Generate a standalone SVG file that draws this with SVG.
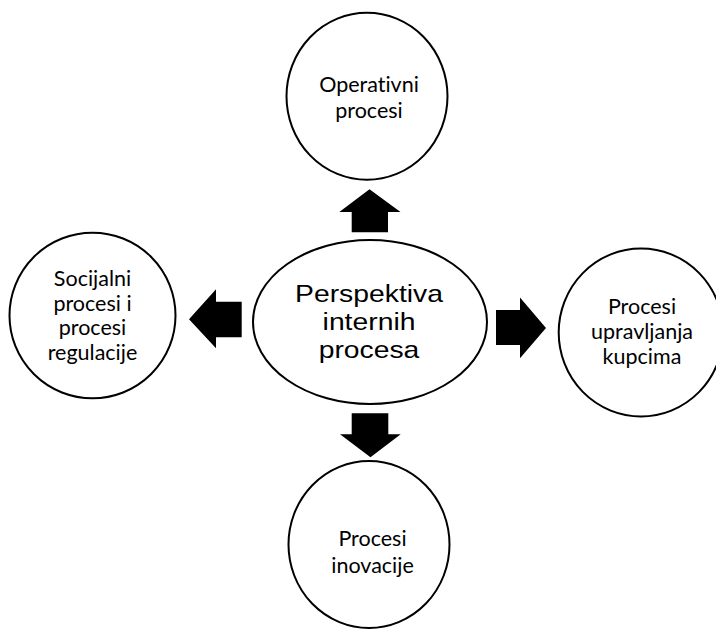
<svg xmlns="http://www.w3.org/2000/svg" width="716" height="631" viewBox="0 0 716 631">
<style>
.node { fill: #ffffff; stroke: #000000; stroke-width: 2; }
.lbl { font-family: Lato, "Open Sans", sans-serif; font-size: 21.5px; fill: #000000; text-anchor: middle; font-variant-ligatures: none; }
.main { font-family: "Liberation Sans", Arial, sans-serif; font-size: 24px; fill: #000000; text-anchor: middle; }
.arrow { fill: #000000; stroke: none; }
</style>
<rect x="0" y="0" width="716" height="631" fill="#ffffff"/>
<g id="connectors">
<polygon class="arrow" points="369.5,189.3 400.5,212 388,212 388,232.3 351.7,232.3 351.7,212 339.3,212"/>
<polygon class="arrow" points="496,310 520,310 520,297.5 546,328 520,358.3 520,345 496,345"/>
<polygon class="arrow" points="351.7,413.3 388.3,413.3 388.3,434.3 400.7,434.3 370.5,457.3 340,434.3 351.7,434.3"/>
<polygon class="arrow" points="241.7,301.7 216,301.7 216,289.3 189,319.3 216,348.3 216,337.3 241.7,337.3"/>
</g>
<g id="node-center">
<ellipse class="node" cx="370" cy="322" rx="117" ry="82"/>
<g transform="translate(369,0) scale(1.18,1)">
<text class="main" x="0" y="301.7">Perspektiva</text>
<text class="main" x="0" y="330">internih</text>
<text class="main" x="0" y="358.3">procesa</text>
</g>
</g>
<g id="node-top">
<ellipse class="node" cx="367" cy="96.3" rx="80.5" ry="83.5"/>
<text class="lbl" x="369" y="92.3">Operativni</text>
<text class="lbl" x="369" y="117.7">procesi</text>
</g>
<g id="node-left">
<ellipse class="node" cx="92.5" cy="315.5" rx="83" ry="82.8"/>
<text class="lbl" x="92.5" y="286">Socijalni</text>
<text class="lbl" x="92.5" y="310.5">procesi i</text>
<text class="lbl" x="92.5" y="335">procesi</text>
<text class="lbl" x="92.5" y="360">regulacije</text>
</g>
<g id="node-right">
<ellipse class="node" cx="641" cy="332.5" rx="82.3" ry="84"/>
<text class="lbl" x="642" y="314">Procesi</text>
<text class="lbl" x="642" y="339">upravljanja</text>
<text class="lbl" x="642" y="364">kupcima</text>
</g>
<g id="node-bottom">
<ellipse class="node" cx="369" cy="544.5" rx="80.5" ry="83.5"/>
<text class="lbl" x="372.5" y="546">Procesi</text>
<text class="lbl" x="372.5" y="572.7">inovacije</text>
</g>
</svg>
